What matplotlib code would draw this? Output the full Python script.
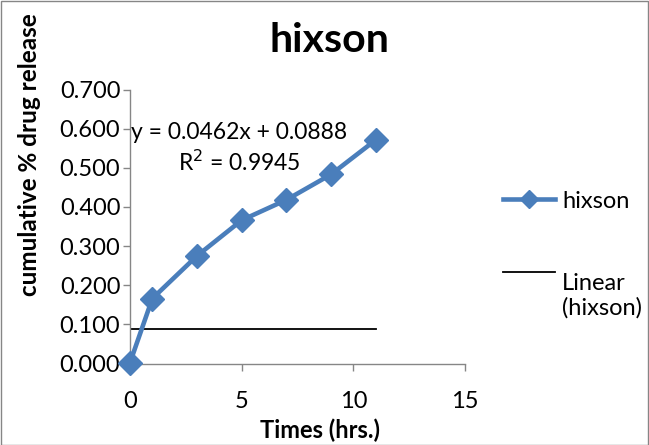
import matplotlib
matplotlib.use("Agg")
import matplotlib.pyplot as plt
from matplotlib.lines import Line2D
from matplotlib.patches import Rectangle

plt.rcParams['font.family'] = ['Lato', 'DejaVu Sans']

times = [0, 1, 3, 5, 7, 9, 11]
release = [0.002, 0.166, 0.275, 0.366, 0.418, 0.483, 0.571]
trend_x = [0, 11]
trend_y = [0.0888, 0.0888]
eq_text = "y = 0.0462x + 0.0888\nR$^2$ = 0.9945"
title = "hixson"
series_name = "hixson"
trend_name = "Linear\n(hixson)"
xticks = [0, 5, 10, 15]
yticks = [0.0, 0.1, 0.2, 0.3, 0.4, 0.5, 0.6, 0.7]

W, H = 649, 445
fig = plt.figure(figsize=(W / 100, H / 100), dpi=100)
ax = fig.add_axes([130 / W, 1 - 363.5 / H, (465 - 130) / W, (363.5 - 89.5) / H])

blue = '#4A7EBB'
ax.plot(times, release, color=blue, lw=3.3, marker='D', ms=12,
        markeredgecolor=blue, markerfacecolor=blue, clip_on=False, zorder=3)
ax.plot(trend_x, trend_y, color='black', lw=1.3, zorder=2)

ax.set_xlim(0, 15)
ax.set_ylim(0, 0.7)
ax.set_xticks(xticks)
ax.set_yticks(yticks)
ax.set_yticklabels([f"{v:.3f}" for v in yticks])
for s in ['top', 'right']:
    ax.spines[s].set_visible(False)
for s in ['left', 'bottom']:
    ax.spines[s].set_color('#868686')
    ax.spines[s].set_linewidth(1.0)
ax.tick_params(axis='both', colors='#868686', labelcolor='black', labelsize=17,
               length=5, width=1.0, direction='out')
ax.tick_params(axis='x', pad=15)
ax.tick_params(axis='y', pad=2)

ax.text(4.88, 0.55, eq_text, ha='center', va='center', fontsize=16.5,
        linespacing=1.3)

fig.text(329 / W, 1 - 40 / H, title, ha='center', va='center',
         fontsize=29.5, fontweight='bold')
fig.text(320 / W, 1 - 430 / H, "Times (hrs.)", ha='center', va='center',
         fontsize=17, fontweight='bold')
fig.text(30 / W, 1 - 155 / H, "cumulative % drug release", ha='center',
         va='center', rotation=90, fontsize=17.5, fontweight='bold')

# legend (manual)
fig.add_artist(Line2D([503 / W, 555 / W], [1 - 199 / H, 1 - 199 / H],
                      color=blue, lw=3.3, transform=fig.transFigure))
fig.add_artist(Line2D([529 / W], [1 - 199 / H], color=blue, marker='D', ms=9,
                      transform=fig.transFigure))
fig.text(562 / W, 1 - 201 / H, series_name, ha='left', va='center', fontsize=17)
fig.add_artist(Line2D([503 / W, 555 / W], [1 - 272 / H, 1 - 272 / H],
                      color='black', lw=1.3, transform=fig.transFigure))
fig.text(562 / W, 1 - 296 / H, trend_name, ha='left', va='center', fontsize=17,
         linespacing=1.15)

fig.add_artist(Rectangle((0.5 / W, 0.5 / H), 1 - 1.5 / W, 1 - 1.5 / H,
                         transform=fig.transFigure, fill=False,
                         edgecolor='#868686', lw=1.0))

fig.savefig("out.png", dpi=100)
